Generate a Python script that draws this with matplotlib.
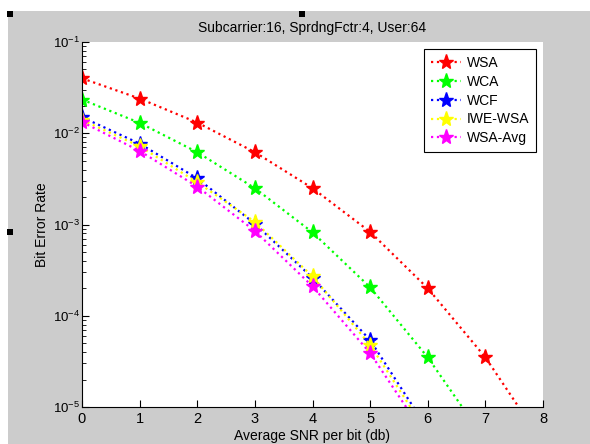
import matplotlib
matplotlib.use("Agg")
import matplotlib.pyplot as plt
from matplotlib.patches import Rectangle

snr = [0, 1, 2, 3, 4, 5, 6, 7, 8]

wsa = [0.040, 0.024, 0.0131, 0.0062, 0.0025, 0.00083, 0.00020, 3.5e-5, 4.0e-6]
wca = [0.0234, 0.0130, 0.0062, 0.0025, 0.00082, 0.000205, 3.5e-5, 4.3e-6]
wcf = [0.0150, 0.0077, 0.0032, 0.00102, 0.00026, 5.4e-5, 5.7e-6]
iwe_wsa = [0.0140, 0.0072, 0.0029, 0.00107, 0.00027, 4.8e-5, 5.1e-6]
wsa_avg = [0.0133, 0.0064, 0.0026, 0.00085, 0.00021, 3.9e-5, 4.4e-6]

series = [
    ("WSA", wsa, "#ff0000"),
    ("WCA", wca, "#00ff00"),
    ("WCF", wcf, "#0000ff"),
    ("IWE-WSA", iwe_wsa, "#ffff00"),
    ("WSA-Avg", wsa_avg, "#ff00ff"),
]

W, H = 590, 444
plt.rcParams["font.family"] = ["Liberation Sans", "DejaVu Sans"]
fig = plt.figure(figsize=(W / 100, H / 100), dpi=100, facecolor="white")

# grey MATLAB figure window background
fig.patches.append(Rectangle((8 / W, 0), 1 - 8 / W, (H - 11) / H,
                             transform=fig.transFigure, facecolor="#cccccc",
                             edgecolor="none", zorder=-10))
# selection handles
for hx, hy in [(7, 11), (299, 11), (7, 229)]:
    fig.patches.append(Rectangle((hx / W, 1 - (hy + 6) / H), 6 / W, 6 / H,
                                 transform=fig.transFigure, facecolor="black",
                                 edgecolor="none", zorder=5))

ax = fig.add_axes([82 / W, 37 / H, (543 - 82) / W, (407 - 42) / H])
ax.set_facecolor("white")

for name, vals, col in series:
    ax.semilogy(snr[:len(vals)], vals, linestyle=":", linewidth=1.6, color=col,
                marker="*", markersize=11, markeredgewidth=1.0,
                markeredgecolor=col, markerfacecolor=col, label=name)

ax.set_xlim(0, 8)
ax.set_ylim(1e-5, 1e-1)
ax.set_xticks(range(9))
ax.spines["top"].set_visible(False)
ax.spines["right"].set_visible(False)
ax.tick_params(which="both", direction="in", colors="black")
ax.tick_params(which="major", length=5)
ax.tick_params(which="minor", length=3)
ax.tick_params(axis="x", labelsize=10.5)
ax.tick_params(axis="y", labelsize=9.5, pad=1.5)

ax.set_title("Subcarrier:16, SprdngFctr:4, User:64", fontsize=10, pad=7)
ax.set_xlabel("Average SNR per bit (db)", fontsize=10, labelpad=2)
ax.set_ylabel("Bit Error Rate", fontsize=10)
ax.yaxis.set_label_coords(-0.072, 0.5)

leg = ax.legend(loc="upper right", bbox_to_anchor=(1.0, 1.0), fontsize=10,
                fancybox=False, framealpha=1, edgecolor="black",
                handlelength=2.2, handletextpad=0.4, borderpad=0.5,
                labelspacing=0.35, borderaxespad=0.5)
leg.get_frame().set_linewidth(0.8)

fig.savefig("out.png", dpi=100, facecolor=fig.get_facecolor())
